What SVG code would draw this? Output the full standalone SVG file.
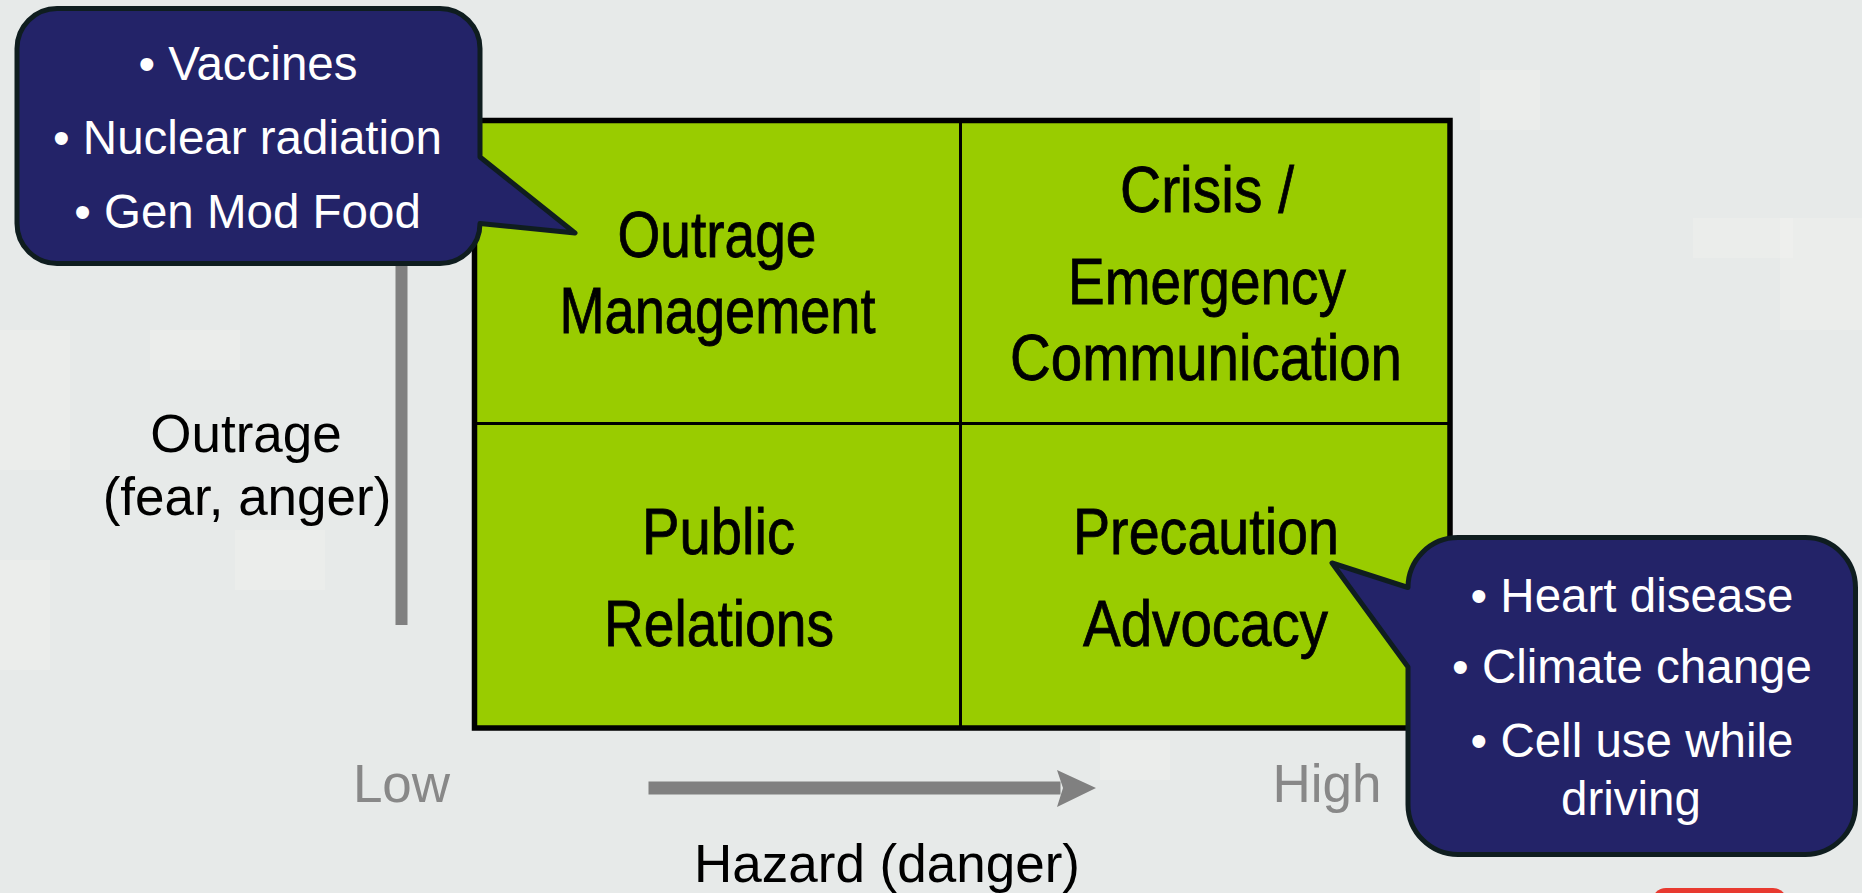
<svg xmlns="http://www.w3.org/2000/svg" width="1862" height="893" viewBox="0 0 1862 893">
  <defs>
    <style>
      .cell-text { font-family: "Liberation Sans Narrow", "Arial Narrow", "Liberation Sans", Arial, sans-serif; font-size: 64px; fill: #000; stroke: #000; stroke-width: 0.8px; text-anchor: middle; }
      .bubble-text { font-family: "Liberation Sans", Arial, sans-serif; font-size: 47.5px; fill: #fff; text-anchor: middle; }
      .axis-text { font-family: "Liberation Sans", Arial, sans-serif; font-size: 53px; fill: #000; text-anchor: middle; }
      .axis-gray { font-family: "Liberation Sans", Arial, sans-serif; font-size: 53px; fill: #888888; text-anchor: middle; }
      .bubble { fill: #232368; stroke: #0f1d1f; stroke-width: 5; stroke-linejoin: round; }
      .patch { fill: #f3f4f2; opacity: 0.35; }
    </style>
  </defs>

  <!-- background -->
  <g id="background">
    <rect x="0" y="0" width="1862" height="893" fill="#e7eae9"/>
    <rect class="patch" x="0" y="330" width="70" height="140"/>
    <rect class="patch" x="0" y="560" width="50" height="110"/>
    <rect class="patch" x="150" y="330" width="90" height="40"/>
    <rect class="patch" x="235" y="530" width="90" height="60"/>
    <rect class="patch" x="1693" y="218" width="100" height="40"/>
    <rect class="patch" x="1780" y="218" width="82" height="112"/>
    <rect class="patch" x="1480" y="70" width="60" height="60"/>
    <rect class="patch" x="1100" y="740" width="70" height="40"/>
  </g>

  <!-- axes (connectors) -->
  <g id="connectors">
    <rect x="395.5" y="200" width="12" height="425" fill="#808080"/>
    <rect x="648.5" y="781.5" width="412" height="13" fill="#808080"/>
    <polygon points="1057,770 1096,788 1057,807 1063,788" fill="#808080"/>
  </g>

  <!-- axis labels -->
  <g id="axis-labels">
    <text class="axis-text" x="246" y="452">Outrage</text>
    <text class="axis-text" x="247" y="515">(fear, anger)</text>
    <text class="axis-gray" x="401.5" y="802">Low</text>
    <text class="axis-gray" x="1327" y="802">High</text>
    <text class="axis-text" x="887" y="882">Hazard (danger)</text>
  </g>

  <!-- grid -->
  <g id="grid">
    <rect x="474.5" y="120.5" width="975.5" height="607.5" fill="#99cc00" stroke="#000" stroke-width="5.5"/>
    <line x1="960.5" y1="120.5" x2="960.5" y2="728" stroke="#000" stroke-width="3"/>
    <line x1="474.5" y1="423.5" x2="1450" y2="423.5" stroke="#000" stroke-width="3"/>
  </g>

  <g id="outrage-management">
    <text class="cell-text" x="717" y="257" textLength="199" lengthAdjust="spacingAndGlyphs">Outrage</text>
    <text class="cell-text" x="717.5" y="333" textLength="316" lengthAdjust="spacingAndGlyphs">Management</text>
  </g>

  <g id="crisis-emergency">
    <text class="cell-text" x="1207" y="212" textLength="174" lengthAdjust="spacingAndGlyphs">Crisis /</text>
    <text class="cell-text" x="1207" y="304" textLength="278" lengthAdjust="spacingAndGlyphs">Emergency</text>
    <text class="cell-text" x="1206" y="380" textLength="392" lengthAdjust="spacingAndGlyphs">Communication</text>
  </g>

  <g id="public-relations">
    <text class="cell-text" x="718.5" y="554" textLength="153" lengthAdjust="spacingAndGlyphs">Public</text>
    <text class="cell-text" x="719" y="646" textLength="230" lengthAdjust="spacingAndGlyphs">Relations</text>
  </g>

  <g id="precaution-advocacy">
    <text class="cell-text" x="1206" y="554" textLength="266" lengthAdjust="spacingAndGlyphs">Precaution</text>
    <text class="cell-text" x="1205.5" y="646" textLength="245" lengthAdjust="spacingAndGlyphs">Advocacy</text>
  </g>

  <!-- callout: high outrage examples -->
  <g id="callout-outrage">
    <path class="bubble" d="M57,8.5 H440 A40,40 0 0 1 480,48.5 V157 L575,233 L480,223.5 A40,40 0 0 1 440,263.5 H57 A40,40 0 0 1 17,223.5 V48.5 A40,40 0 0 1 57,8.5 Z"/>
    <text class="bubble-text" x="248" y="80">• Vaccines</text>
    <text class="bubble-text" x="247.5" y="154">• Nuclear radiation</text>
    <text class="bubble-text" x="247.5" y="228">• Gen Mod Food</text>
  </g>

  <!-- callout: high hazard examples -->
  <g id="callout-hazard">
    <path class="bubble" d="M1458,537.5 H1805.5 A50,50 0 0 1 1855.5,587.5 V804.5 A50,50 0 0 1 1805.5,854.5 H1458 A50,50 0 0 1 1408,804.5 V667 L1332,563 L1408,587.5 A50,50 0 0 1 1458,537.5 Z"/>
    <text class="bubble-text" x="1632" y="612">• Heart disease</text>
    <text class="bubble-text" x="1632" y="683">• Climate change</text>
    <text class="bubble-text" x="1632" y="757">• Cell use while</text>
    <text class="bubble-text" x="1631" y="815">driving</text>
  </g>

  <!-- partial red element at bottom edge -->
  <g id="red-tab">
    <rect x="1652" y="888" width="135" height="30" rx="14" fill="#e83a30"/>
  </g>
</svg>
